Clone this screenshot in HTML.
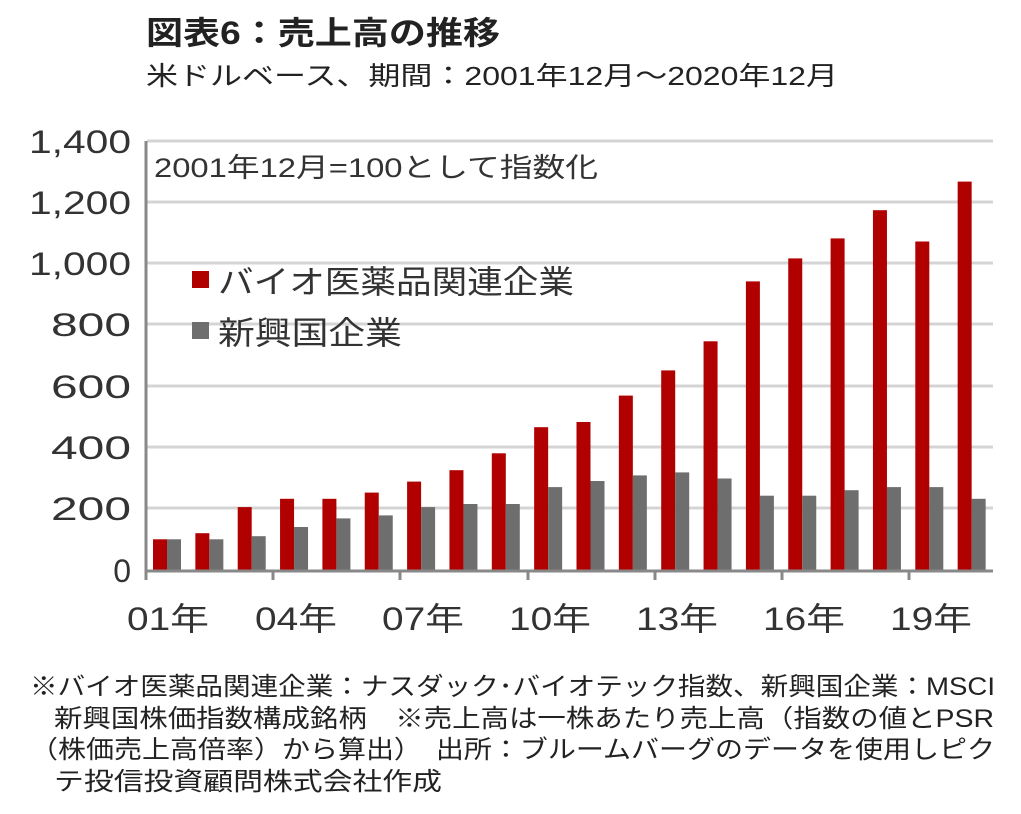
<!DOCTYPE html>
<html><head><meta charset="utf-8"><style>
body{margin:0;background:#fff;width:1021px;height:814px;overflow:hidden;font-family:"Liberation Sans","Noto Sans CJK JP",sans-serif;color:#222}
</style></head><body>
<svg width="1021" height="814" xmlns="http://www.w3.org/2000/svg" style="position:absolute;left:0;top:0">
<g font-family="Liberation Sans, Noto Sans CJK JP, sans-serif">
<text x="146" y="44" font-size="32" font-weight="bold" fill="#222" textLength="354" lengthAdjust="spacingAndGlyphs">図表6：売上高の推移</text>
<text x="146" y="85" font-size="26" fill="#222" textLength="692" lengthAdjust="spacingAndGlyphs">米ドルベース、期間：2001年12月～2020年12月</text>
<g stroke="#d4d4d4" stroke-width="3">
<line x1="147" x2="993" y1="141" y2="141"/><line x1="147" x2="993" y1="202" y2="202"/>
<line x1="147" x2="993" y1="263" y2="263"/><line x1="147" x2="993" y1="324" y2="324"/>
<line x1="147" x2="993" y1="386" y2="386"/><line x1="147" x2="993" y1="447" y2="447"/>
<line x1="147" x2="993" y1="508" y2="508"/>
</g>
<g font-size="32" fill="#333" text-anchor="end">
<text x="131" y="153" textLength="102" lengthAdjust="spacingAndGlyphs">1,400</text>
<text x="131" y="214" textLength="102" lengthAdjust="spacingAndGlyphs">1,200</text>
<text x="131" y="275" textLength="102" lengthAdjust="spacingAndGlyphs">1,000</text>
<text x="131" y="336" textLength="80" lengthAdjust="spacingAndGlyphs">800</text>
<text x="131" y="398" textLength="80" lengthAdjust="spacingAndGlyphs">600</text>
<text x="131" y="459" textLength="80" lengthAdjust="spacingAndGlyphs">400</text>
<text x="131" y="520" textLength="80" lengthAdjust="spacingAndGlyphs">200</text>
<text x="131" y="582">0</text>
</g>
<text x="154" y="177" font-size="27" fill="#333" textLength="444" lengthAdjust="spacingAndGlyphs">2001年12月=100として指数化</text>
<rect x="192" y="271" width="17" height="17" fill="#b00000"/>
<text x="218" y="293" font-size="32" fill="#333" textLength="356" lengthAdjust="spacingAndGlyphs">バイオ医薬品関連企業</text>
<rect x="192" y="322" width="17" height="17" fill="#6e6e6e"/>
<text x="218" y="344" font-size="32" fill="#333" textLength="184" lengthAdjust="spacingAndGlyphs">新興国企業</text>
<g fill="#b00000">
<rect x="153" y="539.3" width="14" height="30.7"/>
<rect x="195.35" y="533.2" width="14" height="36.8"/>
<rect x="237.7" y="507.1" width="14" height="62.9"/>
<rect x="280.05" y="498.8" width="14" height="71.2"/>
<rect x="322.4" y="498.8" width="14" height="71.2"/>
<rect x="364.75" y="492.6" width="14" height="77.4"/>
<rect x="407.1" y="481.6" width="14" height="88.4"/>
<rect x="449.45" y="470.2" width="14" height="99.8"/>
<rect x="491.8" y="453.3" width="14" height="116.7"/>
<rect x="534.15" y="427.2" width="14" height="142.8"/>
<rect x="576.5" y="422" width="14" height="148"/>
<rect x="618.85" y="395.6" width="14" height="174.4"/>
<rect x="661.2" y="370.4" width="14" height="199.6"/>
<rect x="703.55" y="341.3" width="14" height="228.7"/>
<rect x="745.9" y="281.4" width="14" height="288.6"/>
<rect x="788.25" y="258.4" width="14" height="311.6"/>
<rect x="830.6" y="238.4" width="14" height="331.6"/>
<rect x="872.95" y="210.2" width="14" height="359.8"/>
<rect x="915.3" y="241.5" width="14" height="328.5"/>
<rect x="957.65" y="181.6" width="14" height="388.4"/>
</g>
<g fill="#6e6e6e">
<rect x="167" y="539.3" width="14" height="30.7"/>
<rect x="209.35" y="539.3" width="14" height="30.7"/>
<rect x="251.7" y="536.2" width="14" height="33.8"/>
<rect x="294.05" y="527" width="14" height="43"/>
<rect x="336.4" y="518.4" width="14" height="51.6"/>
<rect x="378.75" y="515.4" width="14" height="54.6"/>
<rect x="421.1" y="507.1" width="14" height="62.9"/>
<rect x="463.45" y="504" width="14" height="66"/>
<rect x="505.8" y="504" width="14" height="66"/>
<rect x="548.15" y="487.1" width="14" height="82.9"/>
<rect x="590.5" y="481" width="14" height="89"/>
<rect x="632.85" y="475.4" width="14" height="94.6"/>
<rect x="675.2" y="472.4" width="14" height="97.6"/>
<rect x="717.55" y="478.5" width="14" height="91.5"/>
<rect x="759.9" y="495.7" width="14" height="74.3"/>
<rect x="802.25" y="495.7" width="14" height="74.3"/>
<rect x="844.6" y="490.2" width="14" height="79.8"/>
<rect x="886.95" y="487.1" width="14" height="82.9"/>
<rect x="929.3" y="487.1" width="14" height="82.9"/>
<rect x="971.65" y="498.8" width="14" height="71.2"/>
</g>
<line x1="146" y1="141" x2="146" y2="580" stroke="#888" stroke-width="3"/>
<line x1="145" y1="571" x2="993" y2="571" stroke="#888" stroke-width="3"/>
<g stroke="#888" stroke-width="3">
<line x1="146" x2="146" y1="571" y2="580"/><line x1="273" x2="273" y1="571" y2="580"/>
<line x1="400" x2="400" y1="571" y2="580"/><line x1="528" x2="528" y1="571" y2="580"/>
<line x1="655" x2="655" y1="571" y2="580"/><line x1="782" x2="782" y1="571" y2="580"/>
<line x1="909" x2="909" y1="571" y2="580"/>
</g>
<g font-size="32" fill="#333" text-anchor="middle">
<text x="168" y="630" textLength="82" lengthAdjust="spacingAndGlyphs">01年</text>
<text x="296" y="630" textLength="82" lengthAdjust="spacingAndGlyphs">04年</text>
<text x="423" y="630" textLength="82" lengthAdjust="spacingAndGlyphs">07年</text>
<text x="550" y="630" textLength="82" lengthAdjust="spacingAndGlyphs">10年</text>
<text x="677" y="630" textLength="82" lengthAdjust="spacingAndGlyphs">13年</text>
<text x="804" y="630" textLength="82" lengthAdjust="spacingAndGlyphs">16年</text>
<text x="931" y="630" textLength="82" lengthAdjust="spacingAndGlyphs">19年</text>
</g>
<g font-size="25" fill="#222">
<text x="30" y="695" textLength="965" lengthAdjust="spacingAndGlyphs">※バイオ医薬品関連企業：ナスダック･バイオテック指数、新興国企業：MSCI</text>
<text x="54" y="727" textLength="940" lengthAdjust="spacingAndGlyphs">新興国株価指数構成銘柄　※売上高は一株あたり売上高（指数の値とPSR</text>
<text x="30" y="758" textLength="965" lengthAdjust="spacingAndGlyphs">（株価売上高倍率）から算出）　出所：ブルームバーグのデータを使用しピク</text>
<text x="54" y="790" textLength="388" lengthAdjust="spacingAndGlyphs">テ投信投資顧問株式会社作成</text>
</g>
</g>
</svg>
</body></html>
